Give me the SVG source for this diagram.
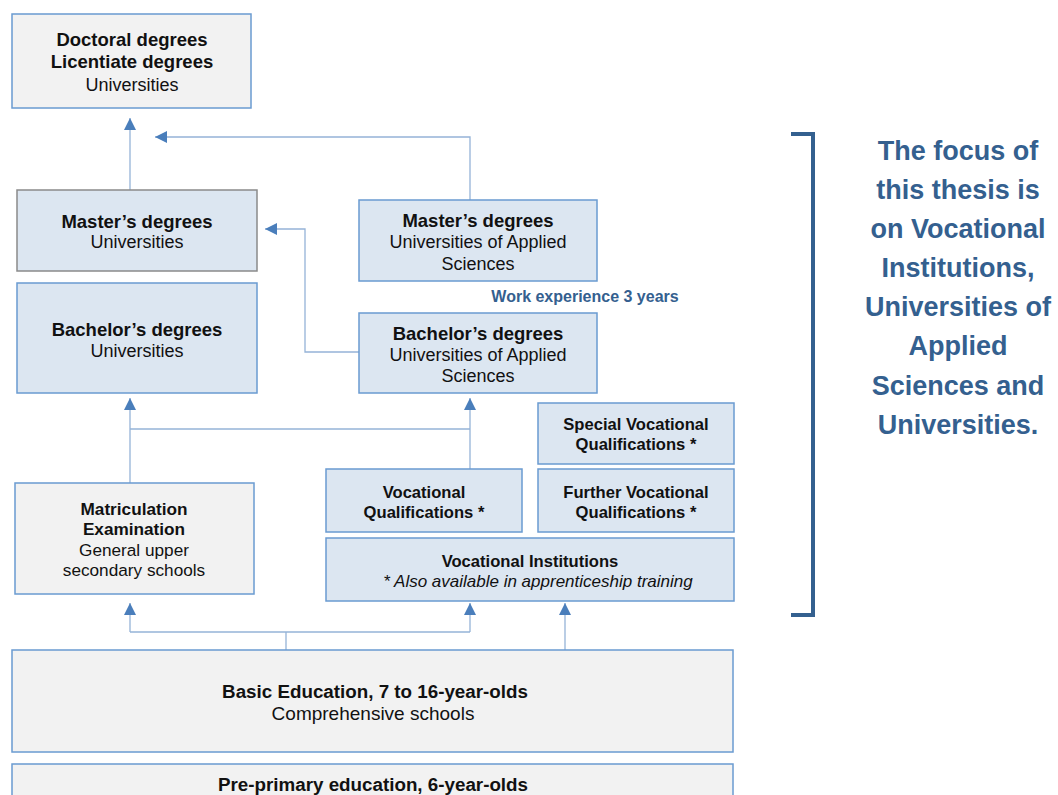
<svg xmlns="http://www.w3.org/2000/svg" width="1058" height="795" viewBox="0 0 1058 795">
<defs>
<marker id="ah" viewBox="0 0 12 12" refX="12" refY="6" markerWidth="12" markerHeight="12" markerUnits="userSpaceOnUse" orient="auto">
<path d="M0,0 L12,6 L0,12 z" fill="#4a7ebb"/>
</marker>
<style>
.box{stroke:#6a9bd1;stroke-width:1.5}
.g{fill:#f2f2f2}
.b{fill:#dce6f1}
.t{font-family:"Liberation Sans",Arial,sans-serif;font-size:18px;fill:#111111;text-anchor:middle}
.bd{font-weight:bold}
.big{font-size:18.5px}
.sm{font-size:16.6px}
.ms{font-size:17.2px}
.bs{font-size:18.8px}
.conn path{fill:none;stroke:#95b3d7;stroke-width:1.3}
.focus{font-family:"Liberation Sans",Arial,sans-serif;font-size:27px;font-weight:bold;fill:#34608f;text-anchor:middle}
</style>
</defs>
<rect width="1058" height="795" fill="#ffffff"/>

<g id="connectors" class="conn">
<path d="M130,190 V118" marker-end="url(#ah)"/>
<path d="M470,200 V137 H155" marker-end="url(#ah)"/>
<path d="M359,352 H305 V229 H265" marker-end="url(#ah)"/>
<path d="M130,483 V398" marker-end="url(#ah)"/>
<path d="M130,429 H470"/>
<path d="M470,469 V398" marker-end="url(#ah)"/>
<path d="M130,632 H470"/>
<path d="M286,650 V632"/>
<path d="M130,632 V603" marker-end="url(#ah)"/>
<path d="M470,632 V603" marker-end="url(#ah)"/>
<path d="M565,650 V603" marker-end="url(#ah)"/>
</g>

<g id="doctoral">
<rect class="box g" x="12" y="14" width="239" height="94"/>
<text class="t bd big" x="132" y="46">Doctoral degrees</text>
<text class="t bd big" x="132" y="68">Licentiate degrees</text>
<text class="t" x="132" y="91">Universities</text>
</g>

<g id="master-univ">
<rect x="17" y="190" width="240" height="81" fill="#dce6f1" stroke="#8a8a8a" stroke-width="1.5"/>
<text class="t bd big" x="137" y="228">Master’s degrees</text>
<text class="t" x="137" y="248">Universities</text>
</g>

<g id="master-uas">
<rect class="box b" x="359" y="200" width="238" height="81"/>
<text class="t bd big" x="478" y="227">Master’s degrees</text>
<text class="t" x="478" y="248">Universities of Applied</text>
<text class="t" x="478" y="270">Sciences</text>
</g>

<g id="work-experience">
<text class="t bd" x="585" y="302" style="font-size:16px;fill:#34608f">Work experience 3 years</text>
</g>

<g id="bachelor-univ">
<rect class="box b" x="17" y="283" width="240" height="110"/>
<text class="t bd big" x="137" y="336">Bachelor’s degrees</text>
<text class="t" x="137" y="357">Universities</text>
</g>

<g id="bachelor-uas">
<rect class="box b" x="359" y="313" width="238" height="80"/>
<text class="t bd big" x="478" y="340">Bachelor’s degrees</text>
<text class="t" x="478" y="361">Universities of Applied</text>
<text class="t" x="478" y="382">Sciences</text>
</g>

<g id="special-vq">
<rect class="box b" x="538" y="403" width="196" height="61"/>
<text class="t bd sm" x="636" y="430">Special Vocational</text>
<text class="t bd sm" x="636" y="449.5">Qualifications *</text>
</g>

<g id="vq">
<rect class="box b" x="326" y="469" width="196" height="63"/>
<text class="t bd sm" x="424" y="498">Vocational</text>
<text class="t bd sm" x="424" y="517.5">Qualifications *</text>
</g>

<g id="further-vq">
<rect class="box b" x="538" y="469" width="196" height="63"/>
<text class="t bd sm" x="636" y="498">Further Vocational</text>
<text class="t bd sm" x="636" y="517.5">Qualifications *</text>
</g>

<g id="vocational-institutions">
<rect class="box b" x="326" y="538" width="408" height="63"/>
<text class="t bd sm" x="530" y="567">Vocational Institutions</text>
<text class="t" x="538" y="586.5" font-style="italic" style="font-size:17px">* Also available in apprenticeship training</text>
</g>

<g id="matriculation">
<rect class="box g" x="15" y="483" width="239" height="111"/>
<text class="t bd ms" x="134" y="515">Matriculation</text>
<text class="t bd ms" x="134" y="535">Examination</text>
<text class="t ms" x="134" y="556">General upper</text>
<text class="t ms" x="134" y="576">secondary schools</text>
</g>

<g id="basic-education">
<rect class="box g" x="12" y="650" width="721" height="102"/>
<text class="t bd bs" x="375" y="698">Basic Education, 7 to 16-year-olds</text>
<text class="t" x="373" y="720" style="font-size:19px">Comprehensive schools</text>
</g>

<g id="pre-primary">
<rect class="box g" x="12" y="764" width="721" height="40"/>
<text class="t bd bs" x="373" y="791">Pre-primary education, 6-year-olds</text>
</g>

<g id="focus-note">
<path d="M791,134 H813 V615 H791" fill="none" stroke="#34608f" stroke-width="4"/>
<text class="focus" x="958" y="160">The focus of</text>
<text class="focus" x="958" y="199">this thesis is</text>
<text class="focus" x="958" y="238">on Vocational</text>
<text class="focus" x="958" y="277">Institutions,</text>
<text class="focus" x="958" y="316">Universities of</text>
<text class="focus" x="958" y="355">Applied</text>
<text class="focus" x="958" y="395">Sciences and</text>
<text class="focus" x="958" y="434">Universities.</text>
</g>
</svg>
